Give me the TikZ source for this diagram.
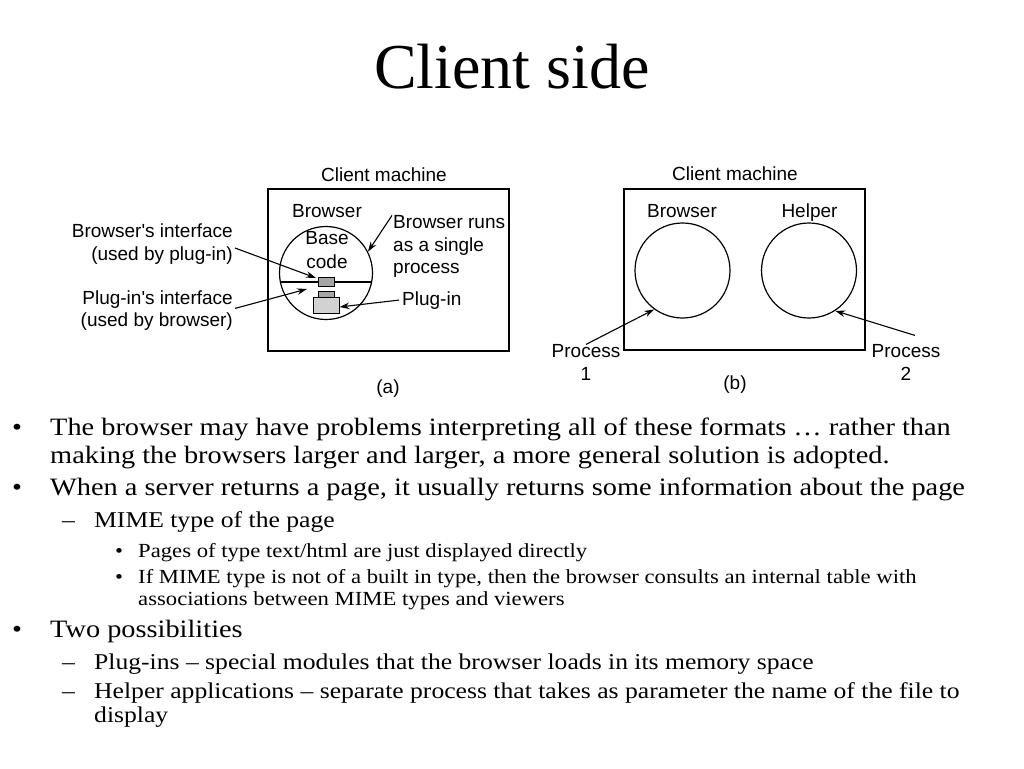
\documentclass[tikz,border=0pt]{standalone}
\usepackage{fontspec}
\setmainfont{Liberation Serif}
\newfontfamily\dsf{Liberation Sans}
\newfontfamily\bodyf[FakeStretch=1.134]{Liberation Serif}
\usetikzlibrary{arrows.meta}
\begin{document}
\begin{tikzpicture}[x=1pt,y=-1pt,
  lab/.style={font=\dsf\fontsize{19}{22.5}\selectfont, inner sep=0pt},
  arr/.style={line width=1.1pt, -{Stealth[length=10pt,width=6.5pt]}},
  frame/.style={draw, line width=1.4pt, inner sep=0pt},
  proc/.style={circle, draw, line width=1.2pt, inner sep=0pt, minimum size=#1},
  proc/.default=95pt,
  tone/.style={font=\bodyf\fontsize{25}{28}\selectfont, inner sep=0pt, anchor=base west},
  ttwo/.style={font=\bodyf\fontsize{22.6}{26}\selectfont, inner sep=0pt, anchor=base west},
  tthree/.style={font=\bodyf\fontsize{20}{23}\selectfont, inner sep=0pt, anchor=base west},
  part/.style={draw, line width=0.8pt, inner sep=0pt},
]
\useasboundingbox (0,0) rectangle (1024,768);
\fill[white] (0,0) rectangle (1024,768);

% title
\node[font=\fontsize{64}{70}\selectfont, inner sep=0pt, anchor=base] (title) at (512,88) {Client side};

% ---------- diagram (a)
\node[frame, minimum width=241pt, minimum height=162pt] (ma) at (388.5,270) {};
\node[lab, anchor=base] (cma) at (384,181) {Client machine};
\node[proc=93pt] (ca) at (326,273) {};
\draw[line width=1.2pt] (ca.191.8) -- (ca.-11.8);
\node[part, fill=gray!70, minimum width=16pt, minimum height=9pt] (bif) at (326,281.5) {};
\node[part, fill=gray!70, minimum width=16pt, minimum height=5.5pt] (pif) at (326,294.5) {};
\node[part, fill=gray!35, minimum width=26pt, minimum height=16pt] (plug) at (326,305) {};
\node[lab, anchor=base] (bra) at (327,217) {Browser};
\node[lab, anchor=base] (basec) at (327,244) {Base};
\node[lab, anchor=base] (codec) at (327,268) {code};
\node[lab, align=right, anchor=east] (bi) at (233,244) {Browser's interface\\(used by plug-in)};
\node[lab, align=right, anchor=east] (pi) at (233,310.4) {Plug-in's interface\\(used by browser)};
\node[lab, align=left, anchor=west] (brun) at (393,246.6) {Browser runs\\as a single\\process};
\node[lab, anchor=base west] (pl) at (402,305) {Plug-in};
\node[lab, anchor=base] (capa) at (388,393) {(a)};
\coordinate (tipbi) at (316,278);
\coordinate (tippi) at (307,289);
\draw[arr] ([xshift=2pt,yshift=-4pt]bi.east) -- (tipbi);
\draw[arr] ([xshift=2pt,yshift=2pt]pi.east) -- (tippi);
\draw[arr] ([xshift=-1pt]brun.north west) -- (ca.27);
\draw[arr] ([xshift=-3pt]pl.west) -- ([yshift=-2pt]plug.east);

% ---------- diagram (b)
\node[frame, minimum width=241pt, minimum height=161pt] (mb) at (744.5,269.5) {};
\node[lab, anchor=base] (cmb) at (735,180) {Client machine};
\node[proc] (cb) at (682.5,270.5) {};
\node[proc] (ch) at (809,270.5) {};
\node[lab, anchor=base] (brb) at (682,217) {Browser};
\node[lab, anchor=base] (hlp) at (809.5,217) {Helper};
\node[lab, align=center] (p1) at (586,362.4) {Process\\1};
\node[lab, align=center] (p2) at (906,362.4) {Process\\2};
\node[lab, anchor=base] (capb) at (735,389) {(b)};
\draw[arr] (p1.north) -- (cb.234);
\draw[arr] ([xshift=9pt,yshift=9pt]p2.north) -- (ch.-57);

% ---------- bullet text
\node[tone] (d1) at (12,435) {•};
\node[tone] (l1) at (50,435) {The browser may have problems interpreting all of these formats … rather than};
\node[tone] (l1b) at (50,463) {making the browsers larger and larger, a more general solution is adopted.};
\node[tone] (d2) at (12,495) {•};
\node[tone] (l2) at (50,495) {When a server returns a page, it usually returns some information about the page};
\node[ttwo] (d21) at (62,527) {–};
\node[ttwo] (l21) at (94,527) {MIME type of the page};
\node[tthree] (d211) at (115,557) {•};
\node[tthree] (l211) at (138,557) {Pages of type text/html are just displayed directly};
\node[tthree] (d212) at (115,583) {•};
\node[tthree] (l212) at (138,583) {If MIME type is not of a built in type, then the browser consults an internal table with};
\node[tthree] (l212b) at (138,605) {associations between MIME types and viewers};
\node[tone] (d3) at (12,637) {•};
\node[tone] (l3) at (50,637) {Two possibilities};
\node[ttwo] (d31) at (62,669) {–};
\node[ttwo] (l31) at (94,669) {Plug-ins – special modules that the browser loads in its memory space};
\node[ttwo] (d32) at (62,698) {–};
\node[ttwo] (l32) at (94,698) {Helper applications – separate process that takes as parameter the name of the file to};
\node[ttwo] (l32b) at (94,722) {display};
\end{tikzpicture}
\end{document}
